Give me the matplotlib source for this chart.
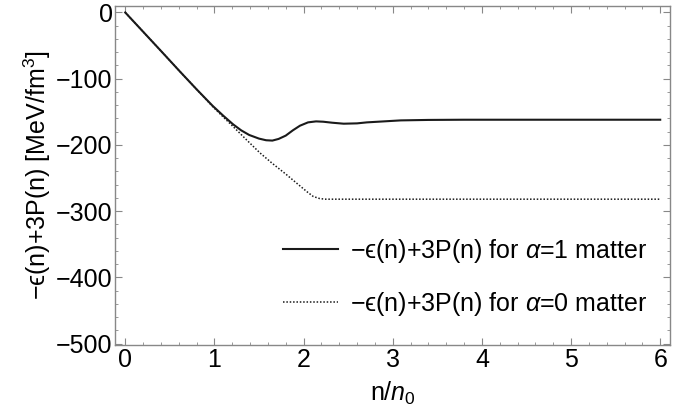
import matplotlib.pyplot as plt
import numpy as np

plt.rcParams['font.family'] = ['Liberation Sans', 'DejaVu Sans']
plt.rcParams['mathtext.fontset'] = 'custom'
plt.rcParams['mathtext.rm'] = 'Liberation Sans'
plt.rcParams['mathtext.it'] = 'Liberation Sans:italic'

# alpha = 1 matter (solid)
n_a1 = [0.0, 0.2, 0.4, 0.61, 0.8, 0.98, 1.1, 1.21, 1.3, 1.39, 1.5, 1.58, 1.65, 1.72, 1.8, 1.88, 1.96, 2.05, 2.14, 2.22, 2.32, 2.45, 2.6, 2.71, 2.9, 3.09, 3.4, 3.8, 4.2, 5.0, 6.0]
y_a1 = [0.0, -29, -58, -88.7, -116, -141, -156, -169, -178, -185, -190.5, -193, -193.5, -191, -186, -178, -171, -166, -164.5, -165, -166.5, -168, -167.5, -166, -164.5, -163, -162.3, -162, -162, -162, -162]

# alpha = 0 matter (dotted)
n_a0 = [0.0, 0.2, 0.4, 0.61, 0.8, 0.98, 1.1, 1.2, 1.35, 1.51, 1.65, 1.8, 1.96, 2.05, 2.11, 2.18, 2.24, 2.35, 3.0, 4.0, 5.0, 6.0]
y_a0 = [0.0, -29, -58, -88.7, -116, -142, -158, -171, -191, -212, -228, -244, -262, -272, -278, -281, -282, -282, -282, -282, -282, -282]

fig = plt.figure(figsize=(6.83, 4.17), dpi=100)
ax = fig.add_axes([0.169, 0.173, 0.812, 0.813])

ax.plot(n_a1, y_a1, color='#1a1a1a', lw=1.5, label=r'$-$ϵ(n)+3P(n) for $\it{\alpha}$=1 matter')
ax.plot(n_a0, y_a0, color='#1a1a1a', lw=1.1, linestyle=(0, (1, 1.2)), label=r'$-$ϵ(n)+3P(n) for $\it{\alpha}$=0 matter')

ax.set_xlim(-0.11, 6.11)
ax.set_ylim(-502, 10)
ax.set_xticks(range(0, 7))
ax.set_yticks([0, -100, -200, -300, -400, -500])
ax.set_yticklabels(['0', '\u2212100', '\u2212200', '\u2212300', '\u2212400', '\u2212500'])
ax.set_xticks(np.arange(0, 6.01, 0.2), minor=True)
ax.set_yticks(np.arange(-500, 1, 20), minor=True)
ax.tick_params(which='both', direction='in', top=True, right=True, color='#888888', labelsize=18, pad=2)
ax.tick_params(which='major', length=5, width=0.8)
ax.tick_params(which='minor', length=2.5, width=0.6)
for s in ax.spines.values():
    s.set_color('#888888')
    s.set_linewidth(1.0)

ax.set_xlabel(r'n/$\it{n}_0$', fontsize=18, labelpad=6)
ax.set_ylabel(r'$-$ϵ(n)+3P(n) [MeV/fm$^3$]', fontsize=18, labelpad=2)

ax.legend(loc='lower right', bbox_to_anchor=(1.0, 0.013), frameon=False, fontsize=18,
          handlelength=2.2, handletextpad=0.5, labelspacing=0.99)

fig.savefig('out.png', dpi=100)
